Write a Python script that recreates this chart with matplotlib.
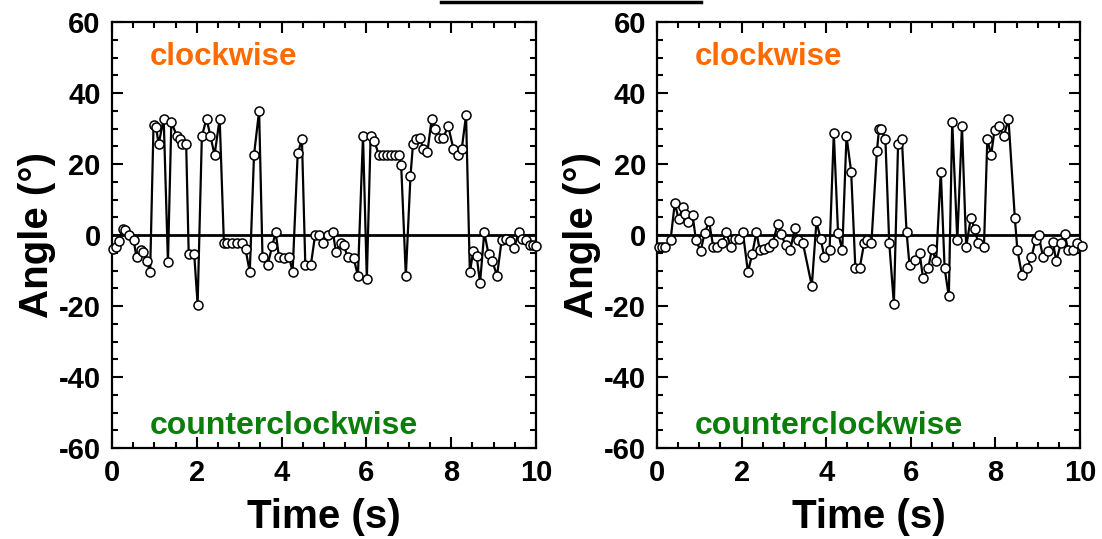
import matplotlib
matplotlib.use('Agg')
import matplotlib.pyplot as plt
from matplotlib.lines import Line2D
from matplotlib.ticker import MultipleLocator

# Left trace: time (s) and angle (deg)
t_left = [0.03, 0.09, 0.17, 0.25, 0.31, 0.39, 0.51, 0.58, 0.68, 0.73, 0.82, 0.90,
          0.98, 1.04, 1.10, 1.22, 1.32, 1.40, 1.53, 1.60, 1.65, 1.75, 1.81, 1.94,
          2.02, 2.12, 2.23, 2.32, 2.42, 2.54, 2.64, 2.72, 2.84, 2.95, 3.07, 3.15,
          3.25, 3.35, 3.47, 3.55, 3.67, 3.78, 3.86, 3.94, 4.06, 4.18, 4.26, 4.38,
          4.48, 4.56, 4.69, 4.79, 4.89, 4.97, 5.09, 5.21, 5.28, 5.39, 5.47, 5.56,
          5.70, 5.80, 5.92, 6.01, 6.10, 6.19, 6.29, 6.39, 6.49, 6.59, 6.68, 6.76,
          6.82, 6.93, 7.04, 7.10, 7.18, 7.26, 7.34, 7.44, 7.54, 7.61, 7.71, 7.81,
          7.93, 8.05, 8.15, 8.25, 8.35, 8.44, 8.52, 8.60, 8.68, 8.78, 8.88, 8.97,
          9.08, 9.19, 9.29, 9.39, 9.49, 9.59, 9.68, 9.77, 9.86, 9.93, 10.0]
a_left = [-4.0, -3.3, -1.7, 1.8, 1.4, 0.0, -1.4, -6.3, -4.2, -4.8, -7.3, -10.5,
          31.0, 30.5, 25.6, 32.8, -7.6, 31.9, 27.9, 27.0, 25.6, 25.6, -5.4, -5.4,
          -19.6, 27.9, 32.8, 28.0, 22.6, 32.8, -2.3, -2.3, -2.3, -2.3, -2.1, -4.0,
          -10.4, 22.6, 35.0, -6.3, -8.5, -3.0, 0.8, -6.3, -6.5, -6.3, -10.4, 23.0,
          27.0, -8.5, -8.5, 0.0, 0.0, -2.1, 0.0, 0.9, -4.7, -2.1, -2.9, -6.3,
          -6.5, -11.5, 28.0, -12.4, 28.0, 26.5, 22.6, 22.6, 22.6, 22.6, 22.6, 22.6,
          19.8, -11.5, 16.7, 25.8, 27.0, 27.5, 24.3, 23.5, 32.8, 30.0, 27.4, 27.4,
          30.7, 24.4, 22.6, 24.4, 33.8, -10.5, -4.5, -5.8, -13.5, 0.8, -5.4, -7.3,
          -11.5, -1.4, -1.0, -1.7, -3.5, 0.8, -1.0, -1.4, -2.9, -2.9, -3.0]

# Right trace
t_right = [0.04, 0.12, 0.20, 0.32, 0.42, 0.51, 0.62, 0.67, 0.73, 0.84, 0.92, 1.03,
           1.13, 1.23, 1.33, 1.43, 1.54, 1.64, 1.74, 1.84, 1.94, 2.03, 2.15, 2.25,
           2.35, 2.43, 2.53, 2.64, 2.74, 2.85, 2.94, 3.04, 3.15, 3.26, 3.33, 3.45,
           3.66, 3.77, 3.87, 3.96, 4.08, 4.18, 4.28, 4.38, 4.48, 4.59, 4.69, 4.79,
           4.90, 4.97, 5.07, 5.20, 5.25, 5.30, 5.40, 5.49, 5.60, 5.70, 5.79, 5.90,
           5.97, 6.09, 6.21, 6.29, 6.41, 6.50, 6.60, 6.71, 6.80, 6.90, 6.98, 7.10,
           7.21, 7.31, 7.42, 7.51, 7.59, 7.73, 7.81, 7.90, 7.98, 8.08, 8.20, 8.31,
           8.46, 8.52, 8.63, 8.75, 8.85, 8.95, 9.02, 9.13, 9.25, 9.36, 9.44, 9.55,
           9.64, 9.72, 9.84, 9.94, 10.05]
a_right = [-3.3, -3.3, -3.3, -1.4, 9.0, 4.6, 7.9, 6.0, 3.6, 5.8, -1.4, -4.5,
           0.7, 3.9, -3.3, -3.3, -2.1, 0.8, -3.3, -1.2, -1.2, 0.8, -10.4, -5.4,
           0.8, -4.2, -4.0, -3.3, -2.1, 3.0, 0.2, -2.9, -4.2, 2.0, -1.4, -2.3,
           -14.3, 3.9, -1.2, -6.3, -4.2, 28.8, 0.7, -4.2, 27.9, 17.9, -9.4, -9.4,
           -2.1, -1.4, -2.1, 23.8, 30.0, 29.8, 27.0, -2.1, -19.4, 25.8, 27.0, 0.9,
           -8.5, -7.0, -5.1, -12.2, -9.4, -4.0, -7.3, 17.9, -9.4, -17.3, 32.0, -1.4,
           30.7, -3.3, 4.9, 1.8, -2.1, -3.3, 27.0, 22.6, 29.6, 30.7, 27.9, 32.8,
           4.9, -4.2, -11.3, -9.4, -6.3, -1.4, 0.0, -6.3, -4.5, -2.0, -7.3, -2.3,
           0.2, -4.2, -4.2, -2.1, -3.0]

x_ticks = [0, 2, 4, 6, 8, 10]
y_ticks = [-60, -40, -20, 0, 20, 40, 60]

plt.rcParams['font.family'] = ['Liberation Sans', 'DejaVu Sans']
plt.rcParams['font.weight'] = 'bold'
plt.rcParams['axes.unicode_minus'] = False

fig = plt.figure(figsize=(11.02, 5.39), dpi=100)

boxes = [[0.1016, 0.1688, 0.3848, 0.790], [0.5962, 0.1688, 0.3838, 0.790]]
traces = [(t_left, a_left), (t_right, a_right)]

for box, (t, a) in zip(boxes, traces):
    ax = fig.add_axes(box)
    ax.axhline(0, color='black', lw=2, zorder=1)
    ax.plot(t, a, color='black', lw=1.6, marker='o', markersize=6.5,
            markerfacecolor='white', markeredgecolor='black', markeredgewidth=1.1,
            clip_on=False, zorder=3)
    ax.set_xlim(0, 10)
    ax.set_ylim(-60, 60)
    ax.set_xticks(x_ticks)
    ax.set_yticks(y_ticks)
    ax.xaxis.set_minor_locator(MultipleLocator(0.5))
    ax.yaxis.set_minor_locator(MultipleLocator(5))
    ax.tick_params(which='both', direction='in', top=True, right=True, width=1.5)
    ax.tick_params(which='major', length=8, labelsize=21, pad=8)
    ax.tick_params(which='minor', length=4)
    for s in ax.spines.values():
        s.set_linewidth(1.6)
    for lab in ax.get_xticklabels() + ax.get_yticklabels():
        lab.set_fontweight('bold')
    ax.set_xlabel('Time (s)', fontsize=29, fontweight='bold', labelpad=8)
    ax.set_ylabel('Angle (°)', fontsize=29, fontweight='bold', labelpad=2)
    ax.text(0.9, 48, 'clockwise', color='#ff6a00', fontsize=22.5, fontweight='bold',
            va='baseline')
    ax.text(0.9, -56, 'counterclockwise', color='#0a7d0a', fontsize=23,
            fontweight='bold', va='baseline')

# short rule across the top of the figure
fig.add_artist(Line2D([0.40, 0.636], [0.996, 0.996], color='black', lw=2.5,
                      transform=fig.transFigure))

fig.savefig('out.png', dpi=100)
